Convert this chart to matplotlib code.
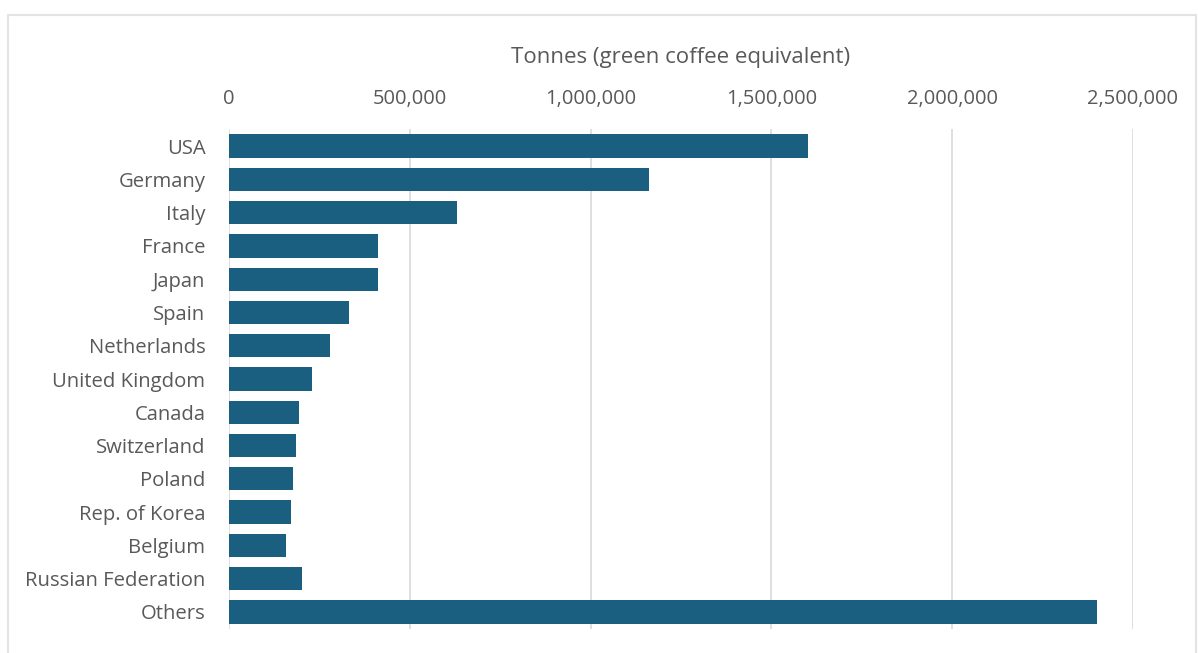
import matplotlib
matplotlib.use("Agg")
import matplotlib.pyplot as plt
from matplotlib.patches import Rectangle
from matplotlib.ticker import FuncFormatter

countries = ["USA", "Germany", "Italy", "France", "Japan", "Spain", "Netherlands",
             "United Kingdom", "Canada", "Switzerland", "Poland", "Rep. of Korea",
             "Belgium", "Russian Federation", "Others"]
tonnes = [1600000, 1162000, 630000, 413000, 413000, 331000, 279000,
          230000, 194000, 185000, 178000, 171000, 157000, 201000, 2401000]
x_ticks = [0, 500000, 1000000, 1500000, 2000000, 2500000]
axis_title = "Tonnes (green coffee equivalent)"

W, H = 1198, 653
fig = plt.figure(figsize=(W / 100, H / 100), dpi=100)
plt.rcParams["font.family"] = ["Open Sans", "DejaVu Sans"]

text_color = "#595959"
bar_color = "#1a5e80"

left, right, top, bottom = 229, 1133, 129.4, 628.6
ax = fig.add_axes([left / W, 1 - bottom / H, (right - left) / W, (bottom - top) / H])

ypos = list(range(len(countries)))
ax.barh(ypos, tonnes, height=0.7, color=bar_color, zorder=3)
ax.set_ylim(len(countries) - 0.5, -0.5)
ax.set_yticks(ypos)
ax.set_yticklabels(countries)

ax.set_xlim(0, 2500000)
ax.set_xticks(x_ticks)
ax.xaxis.set_major_formatter(FuncFormatter(lambda v, p: f"{int(v):,}"))
ax.xaxis.tick_top()
ax.grid(axis="x", color="#d9d9d9", linewidth=1.2, zorder=0)

for s in ax.spines.values():
    s.set_visible(False)
ax.tick_params(axis="both", length=0, labelcolor=text_color)
ax.tick_params(axis="x", pad=15, labelsize=14.5)
ax.tick_params(axis="y", pad=17, labelsize=14.6)

fig.text((left + right) / 2 / W, 1 - 57 / H, axis_title, ha="center", va="center",
         fontsize=16, color=text_color)

# light chart-area frame
fig.patches.append(Rectangle((8 / W, -0.05), (1196 - 8) / W, 1.05 - 15 / H,
                             transform=fig.transFigure, fill=False,
                             edgecolor="#e3e3e3", linewidth=1.5))

fig.savefig("out.png", dpi=100, facecolor="white")
